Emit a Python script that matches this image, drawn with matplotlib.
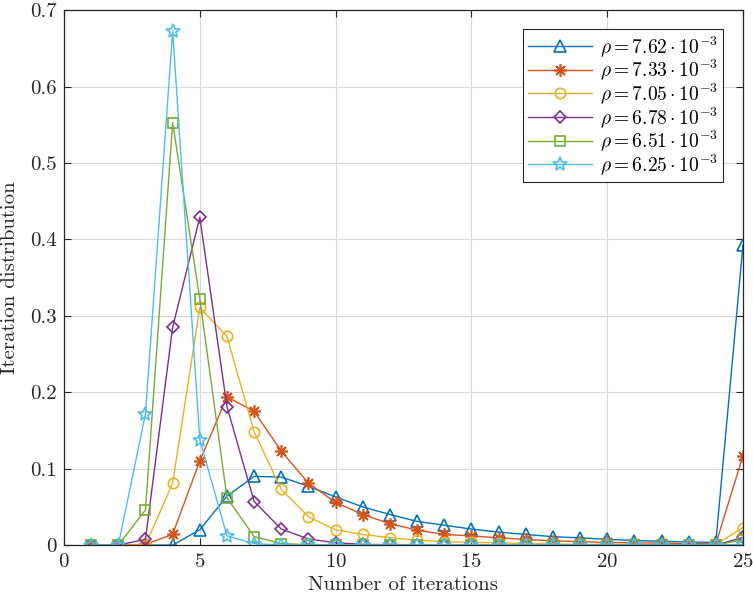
import numpy as np
import matplotlib
matplotlib.use("Agg")
import matplotlib.pyplot as plt

plt.rcParams['font.family'] = 'serif'
plt.rcParams['font.serif'] = ['cmr10']
plt.rcParams['mathtext.fontset'] = 'cm'
plt.rcParams['axes.formatter.use_mathtext'] = True

iterations = np.arange(1, 26)

rho_labels = [r'$\rho = 7.62 \cdot 10^{-3}$',
              r'$\rho = 7.33 \cdot 10^{-3}$',
              r'$\rho = 7.05 \cdot 10^{-3}$',
              r'$\rho = 6.78 \cdot 10^{-3}$',
              r'$\rho = 6.51 \cdot 10^{-3}$',
              r'$\rho = 6.25 \cdot 10^{-3}$']

rho_762 = [0, 0, 0, 0, 0.020, 0.064, 0.090, 0.089, 0.077, 0.063, 0.050, 0.040,
           0.031, 0.026, 0.021, 0.017, 0.014, 0.011, 0.0095, 0.0075, 0.006,
           0.005, 0.004, 0.0035, 0.393]
rho_733 = [0, 0, 0.001, 0.014, 0.110, 0.194, 0.175, 0.123, 0.081, 0.056, 0.040,
           0.028, 0.0196, 0.014, 0.012, 0.0095, 0.0074, 0.0056, 0.0045, 0.0035,
           0.003, 0.0025, 0.002, 0.0015, 0.117]
rho_705 = [0, 0, 0, 0.081, 0.311, 0.273, 0.148, 0.073, 0.037, 0.020, 0.014,
           0.0096, 0.0065, 0.0045, 0.0035, 0.003, 0.002, 0.0015, 0.001, 0.001,
           0.0008, 0.0006, 0.0005, 0.0005, 0.023]
rho_678 = [0, 0, 0.0075, 0.285, 0.429, 0.181, 0.057, 0.021, 0.008, 0.003,
           0.001, 0.0005, 0, 0, 0, 0, 0, 0, 0, 0, 0, 0, 0, 0, 0.010]
rho_651 = [0, 0, 0.046, 0.553, 0.322, 0.062, 0.011, 0.002, 0.0005, 0, 0, 0,
           0, 0, 0, 0, 0, 0, 0, 0, 0, 0, 0, 0, 0.007]
rho_625 = [0, 0, 0.172, 0.673, 0.138, 0.012, 0.002, 0, 0, 0, 0, 0, 0, 0, 0,
           0, 0, 0, 0, 0, 0, 0, 0, 0, 0.001]

series = [rho_762, rho_733, rho_705, rho_678, rho_651, rho_625]
colors = ['#0072BD', '#D95319', '#EDB120', '#7E2F8E', '#77AC30', '#4DBEEE']
markers = ['^', (8, 2, 0), 'o', 'D', 's', '*']
msizes = [9, 9, 7.5, 6.5, 7, 10]

fig = plt.figure(figsize=(7.53, 5.99), dpi=100)
ax = fig.add_axes([0.085, 0.090, 0.9017, 0.893])

for vals, lab, c, m, ms in zip(series, rho_labels, colors, markers, msizes):
    ax.plot(iterations, vals, color=c, marker=m, markersize=ms,
            markerfacecolor='none', markeredgecolor=c, markeredgewidth=1.2,
            linewidth=1.0, label=lab)

ax.set_xlim(0, 25)
ax.set_ylim(0, 0.7)
ax.set_xticks([0, 5, 10, 15, 20, 25])
ax.set_yticks(np.arange(0, 0.71, 0.1))
ax.set_yticklabels(['0', '0.1', '0.2', '0.3', '0.4', '0.5', '0.6', '0.7'])
ax.grid(True, color='#d9d9d9', linewidth=0.8)
ax.set_axisbelow(True)
ax.tick_params(direction='in', top=True, right=True, labelsize=15,
               length=5, color='#262626', labelcolor='#262626')
ax.tick_params(axis='x', pad=6)
ax.tick_params(axis='y', pad=5)
for sp in ax.spines.values():
    sp.set_color('#262626')
    sp.set_linewidth(0.9)

ax.set_xlabel('Number of iterations', fontsize=15, color='#262626', labelpad=3)
ax.set_ylabel('Iteration distribution', fontsize=15, color='#262626', labelpad=8)

leg = ax.legend(loc='upper right', bbox_to_anchor=(0.9705, 0.9645), fontsize=14,
                handlelength=3.3, labelspacing=-0.06, borderpad=0.25,
                borderaxespad=0, handletextpad=0.4, fancybox=False,
                framealpha=1, edgecolor='#262626')
leg.get_frame().set_linewidth(0.8)

fig.savefig('out.png', dpi=100)
